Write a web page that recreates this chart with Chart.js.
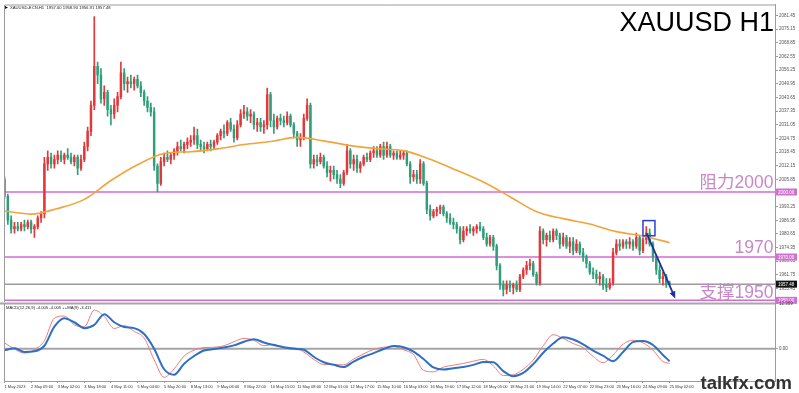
<!DOCTYPE html>
<html>
<head>
<meta charset="utf-8">
<title>XAUUSD H1</title>
<script src="https://cdn.jsdelivr.net/npm/chart.js@4.4.1/dist/chart.umd.min.js"></script>
<style>
  html, body { margin: 0; padding: 0; background: #fff; }
  #wrap { position: relative; width: 799px; height: 393px; overflow: hidden; background: #fff; }
  canvas { position: absolute; left: 0; }
  #priceChart { top: 0; }
  #macdChart { top: 296px; }
</style>
</head>
<body>
<div id="wrap">
  <canvas id="priceChart" width="799" height="310"></canvas>
  <canvas id="macdChart" width="799" height="97"></canvas>
</div>
<script>
// time axis, one label every 8 two-hour candles
const tickLabels = ['1 May 2023', '2 May 09:00', '3 May 02:00', '3 May 18:00', '4 May 11:00',
  '5 May 04:00', '5 May 20:00', '8 May 13:00', '9 May 06:00', '9 May 22:00', '10 May 15:00',
  '11 May 08:00', '12 May 01:00', '12 May 17:00', '15 May 10:00', '16 May 03:00', '16 May 19:00',
  '17 May 12:00', '18 May 05:00', '18 May 21:00', '19 May 14:00', '22 May 07:00', '22 May 23:00',
  '23 May 16:00', '24 May 09:00', '25 May 02:00'];

// two-hour candles
const opens = [
  2006,1998,1987,1983,1984,1983,1985,1984, 1986,1983,1984,1988,1990,2013,2016,2013,
  2015,2017,2015,2017,2016,2014,2016,2011, 2015,2021,2028,2040,2058,2054,2043,2046,
  2038,2036,2040,2044,2055,2050,2051,2050, 2052,2049,2046,2042,2039,2037,2012,2004,
  2014,2016,2015,2017,2019,2021,2020,2022, 2023,2024,2026,2022,2021,2020,2022,2021,
  2023,2026,2028,2027,2032,2029,2025,2031, 2036,2037,2035,2036,2031,2032,2030,2031,
  2045,2033,2030,2034,2033,2032,2035,2031, 2027,2024,2025,2034,2040,2013,2015,2014,
  2016,2012,2009,2010,2008,2006,2004,2009, 2019,2013,2015,2011,2013,2016,2015,2018,
  2019,2017,2021,2017,2021,2017,2018,2016, 2017,2018,2013,2007,2008,2006,2013,2004,
  1992,1989,1991,1992,1993,1990,1988,1986, 1985,1983,1978,1982,1983,1982,1983,1984,
  1983,1979,1976,1979,1975,1966,1957,1955, 1957,1956,1957,1955,1961,1964,1966,1967,
  1962,1958,1982,1978,1980,1978,1982,1980, 1976,1979,1975,1977,1973,1976,1972,1970,
  1967,1963,1962,1960,1961,1957,1956,1958, 1972,1976,1975,1977,1976,1977,1975,1979,
  1973,1978,1981,1976,1970,1964,1960,1961, 1957.6];
const highs = [
  2007,1999,1989,1986,1986,1986,1987,1987, 1987,1985,1989,1991,2016,2019,2018,2017,
  2019,2019,2018,2020,2018,2017,2017,2017, 2023,2030,2042,2081,2060,2057,2049,2047,
  2040,2043,2046,2060,2057,2053,2054,2053, 2054,2051,2047,2044,2041,2039,2013,2016,
  2018,2019,2018,2020,2023,2024,2023,2025, 2026,2030,2029,2024,2023,2023,2024,2024,
  2027,2029,2031,2033,2034,2031,2033,2038, 2040,2039,2038,2037,2034,2034,2033,2048,
  2046,2036,2035,2036,2035,2037,2036,2032, 2028,2027,2036,2043,2041,2017,2017,2018,
  2017,2014,2012,2012,2010,2008,2010,2022, 2020,2017,2017,2014,2017,2018,2019,2021,
  2021,2022,2023,2023,2022,2019,2019,2019, 2019,2019,2014,2010,2010,2015,2014,2005,
  1994,1992,1993,1994,1994,1991,1990,1988, 1986,1984,1984,1984,1985,1984,1985,1986,
  1984,1981,1980,1980,1976,1967,1959,1959, 1959,1958,1959,1962,1965,1968,1969,1968,
  1963,1984,1983,1981,1982,1983,1983,1981, 1981,1980,1979,1979,1978,1977,1974,1971,
  1968,1965,1964,1963,1962,1960,1960,1974, 1978,1978,1978,1978,1979,1978,1981,1980,
  1979,1984,1983,1977,1971,1966,1963,1962, 1958.9];
const lows = [
  1997,1985,1981,1981,1982,1982,1982,1983, 1981,1979,1983,1986,1988,2010,2011,2011,
  2013,2014,2013,2015,2013,2012,2008,2010, 2014,2019,2026,2038,2050,2041,2040,2035,
  2031,2034,2037,2043,2047,2046,2048,2047, 2048,2044,2040,2037,2035,2010,2000,2003,
  2012,2014,2013,2015,2017,2019,2018,2020, 2021,2022,2020,2019,2018,2019,2019,2020,
  2022,2024,2025,2026,2028,2023,2024,2030, 2034,2033,2032,2029,2028,2028,2027,2029,
  2030,2027,2029,2031,2030,2031,2030,2025, 2021,2021,2024,2033,2011,2011,2012,2013,
  2011,2007,2005,2006,2004,2002,2003,2008, 2011,2010,2009,2009,2012,2014,2014,2016,
  2016,2016,2015,2016,2016,2015,2015,2015, 2015,2012,2004,2005,2004,2004,2003,1990,
  1987,1988,1989,1990,1989,1986,1985,1983, 1981,1976,1977,1980,1981,1980,1981,1982,
  1978,1975,1975,1973,1964,1955,1952,1953, 1954,1953,1954,1954,1960,1962,1964,1961,
  1957,1957,1976,1975,1977,1977,1978,1974, 1975,1974,1972,1971,1972,1971,1968,1965,
  1962,1960,1958,1957,1955,1954,1955,1957, 1971,1973,1974,1974,1974,1973,1974,1971,
  1972,1976,1975,1968,1962,1958,1957,1956, 1956.91];
const closes = [
  1998,1987,1983,1984,1983,1985,1984,1986, 1983,1984,1988,1990,2013,2016,2013,2015,
  2017,2015,2017,2016,2014,2016,2011,2015, 2021,2028,2040,2058,2054,2043,2046,2038,
  2036,2040,2044,2055,2050,2051,2050,2052, 2049,2046,2042,2039,2037,2012,2004,2014,
  2016,2015,2017,2019,2021,2020,2022,2023, 2024,2026,2022,2021,2020,2022,2021,2023,
  2026,2028,2027,2032,2029,2025,2031,2036, 2037,2035,2036,2031,2032,2030,2031,2045,
  2033,2030,2034,2033,2032,2035,2031,2027, 2024,2025,2034,2040,2013,2015,2014,2016,
  2012,2009,2010,2008,2006,2004,2009,2019, 2013,2015,2011,2013,2016,2015,2018,2019,
  2017,2021,2017,2021,2017,2018,2016,2017, 2018,2013,2007,2008,2006,2013,2004,1992,
  1989,1991,1992,1993,1990,1988,1986,1985, 1983,1978,1982,1983,1982,1983,1984,1983,
  1979,1976,1979,1975,1966,1957,1955,1957, 1956,1957,1955,1961,1964,1966,1967,1962,
  1958,1982,1978,1980,1978,1982,1980,1976, 1979,1975,1977,1973,1976,1972,1970,1967,
  1963,1962,1960,1961,1957,1956,1958,1972, 1976,1975,1977,1976,1977,1975,1979,1973,
  1978,1981,1976,1970,1964,1960,1961,1957.5, 1957.48];

// moving average, read at every tick label (every 8 candles)
const maValues = [1991.2, 1989.8, 1992.4, 1996.6, 2005.3, 2012.6, 2017.8, 2018.6, 2019.9,
  2021.9, 2023.3, 2025.2, 2023.6, 2021.4, 2020.0, 2019.1, 2015.1, 2010.0, 2004.6, 1997.8,
  1990.9, 1987.7, 1985.2, 1981.7, 1979.7, 1976.6];

// MACD pane, read every 3 candles (last one at the final candle)
const macdMain = [1.6, -0.1, -1.2, -0.3, 2.2, 8.3, 8.9, 6.5, 6.0, 10.5, 8.8, 5.5, 6.3, 4.7,
  2.9, -3.0, -7.8, -5.5, -2.0, -0.4, 0.3, 0.4, 0.8, 1.9, 2.8, 2.3, 0.8, 1.2, 0.2, 0.2, -0.9,
  -2.9, -4.3, -4.3, -4.4, -2.8, -1.4, -0.2, 0.4, 0.6, -0.3, -1.6, -5.9, -6.3, -5.0, -4.5,
  -4.0, -3.4, -2.9, -4.7, -7.3, -7.1, -5.6, -3.1, 0.8, 3.8, 2.8, 1.4, 0.3, -2.1, -3.8, -1.7,
  1.2, 2.3, 1.6, -0.4, -3.5, -4.0];
const macdSignal = [-0.4, 0.1, -0.9, -0.7, 0.8, 6.0, 8.3, 7.2, 5.6, 6.5, 9.4, 7.2, 5.9, 5.6,
  4.0, 0.0, -5.6, -7.1, -4.1, -2.0, -0.5, -0.1, 0.3, 0.9, 1.9, 2.6, 1.7, 1.0, 0.4, 0.0, -0.3,
  -2.2, -3.7, -4.4, -5.0, -3.5, -2.2, -1.2, -0.1, 0.7, 0.4, -0.8, -2.8, -5.1, -5.7, -5.3,
  -5.0, -4.4, -3.6, -3.7, -6.1, -7.5, -6.6, -4.2, -1.1, 1.4, 3.1, 2.5, 1.2, -0.5, -1.9, -3.4,
  -0.9, 1.8, 2.1, 1.0, -1.7, -3.41];

const priceTicks = [1955.45, 1961.75, 1968.05, 1974.35, 1980.65, 1986.95, 1993.25, 1999.55,
  2005.85, 2012.15, 2018.45, 2024.75, 2031.05, 2037.35, 2043.65, 2049.95, 2056.25, 2062.55,
  2068.85, 2075.15, 2081.45];
const macdTicks = [0, 12.309];

const levels = [2000, 1970, 1950];
const levelTexts = ['阻力2000', '1970', '支撑1950'];
const lastPrice = 1957.48;
const boxIdx = [192, 195.6];
const boxPrice = [1986.8, 1979.8];
const arrowIdx = [193.1, 201.7];
const arrowPrice = [1980.9, 1950.9];

const X_MIN = -0.15, X_MAX = 231.7;
const UP = '#e2383c', DOWN = '#2e9f78';
const FONT = '"Liberation Sans", Arial, sans-serif';
const FRAME = '#9c9c9c';

const macdIdx = macdMain.map((v, k) => (k < macdMain.length - 1 ? k * 3 : opens.length - 1));
const candleColor = opens.map((o, i) => (closes[i] >= o ? UP : DOWN));

function hline(ctx, area, y, color, width) {
  ctx.save();
  ctx.strokeStyle = color;
  ctx.lineWidth = width;
  ctx.beginPath();
  ctx.moveTo(area.left, y);
  ctx.lineTo(area.right, y);
  ctx.stroke();
  ctx.restore();
}

function tag(ctx, x, y, text, bg) {
  ctx.fillStyle = bg;
  ctx.fillRect(x, y - 3.5, 21, 7);
  ctx.fillStyle = '#fff';
  ctx.font = '4.5px ' + FONT;
  ctx.textAlign = 'left';
  ctx.textBaseline = 'middle';
  ctx.fillText(text, x + 2, y + 0.3);
}

const priceDecor = {
  id: 'priceDecor',
  beforeDatasetsDraw(chart) {
    const { ctx, chartArea: a, scales: { y } } = chart;
    levels.forEach(v => hline(ctx, a, y.getPixelForValue(v), '#d46ad4', 1.5));
    hline(ctx, a, y.getPixelForValue(lastPrice), '#9a9a9a', 1.5);
  },
  afterDraw(chart) {
    const { ctx, chartArea: a, scales: { x, y } } = chart;
    ctx.save();
    // frame
    ctx.strokeStyle = FRAME;
    ctx.lineWidth = 1;
    ctx.beginPath();
    ctx.moveTo(a.left + 0.5, a.bottom);
    ctx.lineTo(a.left + 0.5, a.top + 0.5);
    ctx.lineTo(a.right, a.top + 0.5);
    ctx.stroke();

    // level captions
    ctx.fillStyle = '#c888c8';
    ctx.font = '17.5px ' + FONT + ', "Noto Sans CJK SC"';
    ctx.textAlign = 'right';
    ctx.textBaseline = 'alphabetic';
    const lift = [4, 3.5, 2];
    levels.forEach((v, i) => ctx.fillText(levelTexts[i], a.right - 1.5, y.getPixelForValue(v) - lift[i]));

    // blue box at the last high
    ctx.strokeStyle = '#2b3fd6';
    ctx.lineWidth = 1.5;
    const bx0 = x.getPixelForValue(boxIdx[0]), bx1 = x.getPixelForValue(boxIdx[1]);
    const by0 = y.getPixelForValue(boxPrice[0]), by1 = y.getPixelForValue(boxPrice[1]);
    ctx.strokeRect(bx0, by0, bx1 - bx0, by1 - by0);

    // arrow
    const ax0 = x.getPixelForValue(arrowIdx[0]), ay0 = y.getPixelForValue(arrowPrice[0]);
    const ax1 = x.getPixelForValue(arrowIdx[1]), ay1 = y.getPixelForValue(arrowPrice[1]);
    const ang = Math.atan2(ay1 - ay0, ax1 - ax0);
    ctx.strokeStyle = '#1f2f9e';
    ctx.fillStyle = '#1f2f9e';
    ctx.lineWidth = 1.8;
    ctx.beginPath();
    ctx.moveTo(ax0, ay0);
    ctx.lineTo(ax1 - 4 * Math.cos(ang), ay1 - 4 * Math.sin(ang));
    ctx.stroke();
    ctx.beginPath();
    ctx.moveTo(ax1, ay1);
    ctx.lineTo(ax1 - 7 * Math.cos(ang) + 3 * Math.sin(ang), ay1 - 7 * Math.sin(ang) - 3 * Math.cos(ang));
    ctx.lineTo(ax1 - 7 * Math.cos(ang) - 3 * Math.sin(ang), ay1 - 7 * Math.sin(ang) + 3 * Math.cos(ang));
    ctx.closePath();
    ctx.fill();

    // price tags on the axis
    levels.forEach(v => tag(ctx, a.right + 1, y.getPixelForValue(v), v.toFixed(2), '#cf72cf'));
    tag(ctx, a.right + 1, y.getPixelForValue(lastPrice), lastPrice.toFixed(2), '#111');

    // header
    ctx.fillStyle = '#111';
    ctx.beginPath();
    ctx.moveTo(5, 6);
    ctx.lineTo(8, 7.5);
    ctx.lineTo(5, 9);
    ctx.closePath();
    ctx.fill();
    ctx.font = '4.2px ' + FONT;
    ctx.textAlign = 'left';
    ctx.textBaseline = 'middle';
    ctx.fillStyle = '#222';
    ctx.fillText('XAUUSD-ECN,H1  1957.60 1958.90 1956.91 1957.48', 10, 7.8);

    ctx.font = '27px ' + FONT;
    ctx.textAlign = 'right';
    ctx.textBaseline = 'alphabetic';
    ctx.fillStyle = '#000';
    ctx.fillText('XAUUSD H1', a.right - 1, 31);
    ctx.restore();
  }
};

const macdDecor = {
  id: 'macdDecor',
  beforeDatasetsDraw(chart) {
    const { ctx, chartArea: a, scales: { y } } = chart;
    hline(ctx, a, y.getPixelForValue(0), '#a4a4a4', 2);
  },
  afterDraw(chart) {
    const { ctx, chartArea: a } = chart;
    ctx.save();
    ctx.strokeStyle = '#a8a8a8';
    ctx.lineWidth = 2;
    ctx.beginPath();
    ctx.moveTo(0, a.top);
    ctx.lineTo(a.right, a.top);
    ctx.stroke();
    ctx.strokeStyle = FRAME;
    ctx.lineWidth = 1;
    ctx.beginPath();
    ctx.moveTo(a.left + 0.5, a.top);
    ctx.lineTo(a.left + 0.5, a.bottom);
    ctx.stroke();

    ctx.font = '4.2px ' + FONT;
    ctx.fillStyle = '#222';
    ctx.textAlign = 'left';
    ctx.textBaseline = 'middle';
    ctx.fillText('MACD(12,26,9) -4.005 -4.005 ++MA(9) -3.411', a.left + 2, a.top + 4.5);

    ctx.font = 'bold 18.5px ' + FONT;
    ctx.fillStyle = '#333';
    ctx.textAlign = 'right';
    ctx.textBaseline = 'alphabetic';
    ctx.fillText('talkfx.com', 792, 93);
    ctx.restore();
  }
};

const tickFont = { family: FONT, size: 4.5 };

new Chart(document.getElementById('priceChart'), {
  type: 'bar',
  data: {
    datasets: [
      {
        type: 'line',
        data: maValues.map((v, j) => ({ x: j * 8, y: v })),
        borderColor: '#f2a43a',
        borderWidth: 1.6,
        pointRadius: 0,
        cubicInterpolationMode: 'monotone',
        order: 0
      },
      {
        data: opens.map((o, i) => ({ x: i, y: [o, closes[i]] })),
        backgroundColor: candleColor,
        barThickness: 1.8,
        minBarLength: 1,
        grouped: false,
        order: 1
      },
      {
        data: lows.map((l, i) => ({ x: i, y: [l, highs[i]] })),
        backgroundColor: candleColor,
        barThickness: 1,
        grouped: false,
        order: 2
      }
    ]
  },
  options: {
    responsive: false,
    animation: false,
    events: [],
    layout: { padding: { left: 4, top: 4.5, right: 0, bottom: 8 } },
    plugins: { legend: { display: false }, tooltip: { enabled: false } },
    scales: {
      x: { type: 'linear', min: X_MIN, max: X_MAX, display: false, offset: false },
      y: {
        position: 'right',
        min: 1949.23,
        max: 2086.54,
        beginAtZero: false,
        afterBuildTicks: s => { s.ticks = priceTicks.map(v => ({ value: v })); },
        afterFit: s => { s.width = 24; },
        ticks: { padding: 1, color: '#555', font: tickFont, callback: v => v.toFixed(2) },
        grid: { drawOnChartArea: false, tickLength: 3, color: FRAME },
        border: { color: FRAME }
      }
    }
  },
  plugins: [priceDecor]
});

new Chart(document.getElementById('macdChart'), {
  type: 'line',
  data: {
    datasets: [
      {
        data: macdSignal.map((v, k) => ({ x: macdIdx[k], y: v })),
        borderColor: '#2c6fc6',
        borderWidth: 2,
        pointRadius: 0,
        cubicInterpolationMode: 'monotone',
        order: 0
      },
      {
        data: macdMain.map((v, k) => ({ x: macdIdx[k], y: v })),
        borderColor: '#f07c7c',
        borderWidth: 1,
        pointRadius: 0,
        cubicInterpolationMode: 'monotone',
        order: 1
      }
    ]
  },
  options: {
    responsive: false,
    animation: false,
    events: [],
    layout: { padding: { left: 4, top: 7.5, right: 0, bottom: 0 } },
    plugins: { legend: { display: false }, tooltip: { enabled: false } },
    scales: {
      x: {
        type: 'linear',
        min: X_MIN,
        max: X_MAX,
        afterBuildTicks: s => { s.ticks = tickLabels.map((t, j) => ({ value: j * 8 })); },
        afterFit: s => { s.height = 12; },
        ticks: {
          autoSkip: false, maxRotation: 0, minRotation: 0, align: 'start', padding: 1,
          color: '#333', font: { family: FONT, size: 4 },
          callback: (v, i) => tickLabels[i]
        },
        grid: { drawOnChartArea: false, tickLength: 2, color: FRAME },
        border: { color: FRAME }
      },
      y: {
        position: 'right',
        min: -8.8,
        max: 12.309,
        afterBuildTicks: s => { s.ticks = macdTicks.map(v => ({ value: v })); },
        afterFit: s => { s.width = 24; },
        ticks: {
          padding: 1, color: '#444', font: tickFont,
          labelOffset: c => (c.tick && c.tick.value > 10 ? 3.5 : 0),
          callback: v => (v === 0 ? '0.00' : v.toFixed(3))
        },
        grid: { drawOnChartArea: false, tickLength: 3, color: FRAME },
        border: { color: FRAME }
      }
    }
  },
  plugins: [macdDecor]
});
</script>
</body>
</html>
